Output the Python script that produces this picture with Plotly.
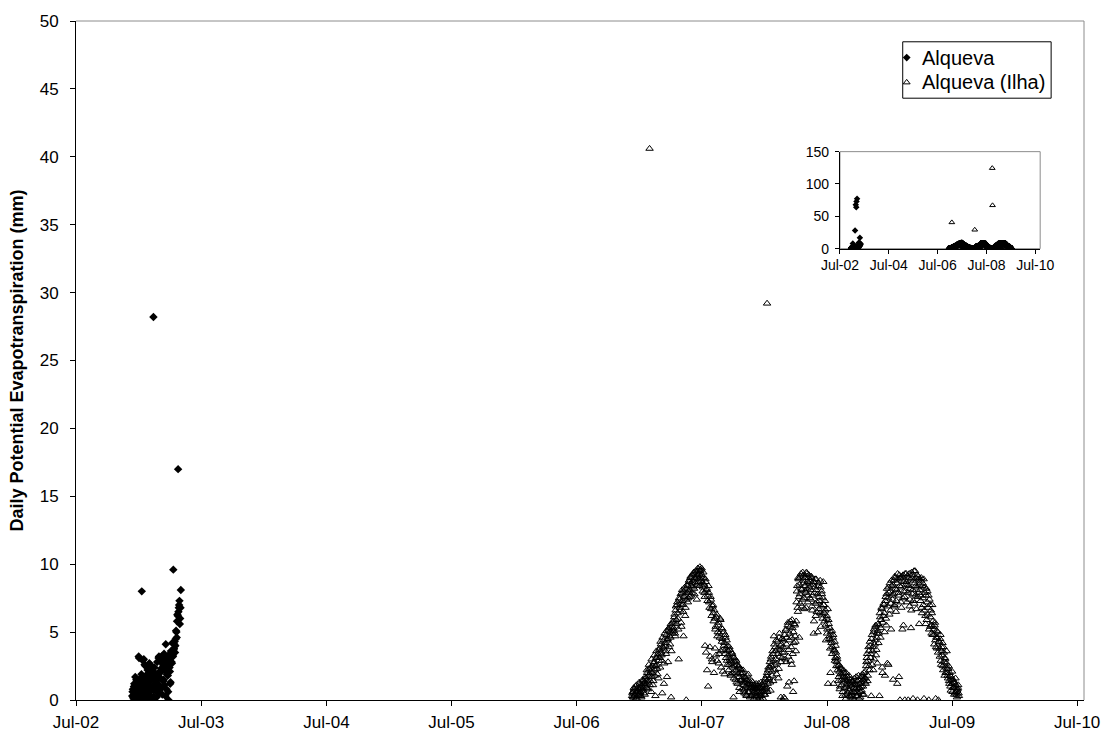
import pandas as pd
import plotly.graph_objects as go

# ---------------- data ----------------
# Alqueva: daily values, read as two interleaved runs (even / odd days)
alq_start_a = "2002-12-12"
alq_values_a = [
    0.3, 0.8, 0.1, 1.2, 0.5, 0.0, 1.5, 0.7, 0.2, 1.0,
    3.1, 0.4, 1.6, 0.9, 8.0, 0.2, 1.3, 3.0, 2.6, 0.6,
    1.8, 0.1, 2.4, 1.1, 0.5, 2.7, 1.4, 0.3, 2.2, 0.9,
    1.7, 28.2, 0.2, 2.0, 1.2, 1.4, 0.6, 1.9, 0.7, 3.2,
    1.0, 2.0, 2.3, 3.2, 0.4, 2.6, 1.5, 1.1, 3.0, 4.1,
    0.8, 2.5, 1.8, 0.0, 2.9, 2.1, 1.3, 3.5, 2.7, 3.3,
    9.6, 3.8, 4.3, 4.0, 5.1, 4.6, 6.3, 17.0, 6.8, 7.3,
    6.0, 8.1,
]
alq_start_b = "2002-12-13"
alq_values_b = [
    0.6, 0.2, 1.0, 0.4, 1.7, 0.1, 0.9, 1.4, 0.3, 3.2, 0.7, 1.2, 0.0, 1.9, 0.5, 2.9, 1.1, 0.3, 1.6, 2.5,
    0.8, 1.3, 2.2, 0.4, 1.8, 0.6, 2.6, 1.0, 0.1, 2.0, 1.5, 0.7, 2.4, 0.9, 1.7, 0.2, 2.8, 1.2, 3.1, 0.5,
    2.1, 1.6, 3.0, 0.9, 2.7, 1.4, 3.4, 2.2, 0.3, 3.1, 1.9, 2.6, 0.6, 3.3, 2.4, 1.2, 3.6, 2.8, 4.2, 3.2,
    3.7, 4.1, 3.5, 4.5, 5.0, 5.8, 6.2, 6.5, 7.0, 5.6, 6.8,
]
alq_step_days = 2
alq_extra_dates = ["2003-02-22", "2003-03-02", "2003-03-05", "2003-03-14"]
alq_extra_values = [68.0, 64.0, 73.0, 77.0]

# Alqueva (Ilha): daily values, two interleaved runs (even / odd days)
ilha_start_a = "2006-12-10"
ilha_values_a = [
    0.3, 0.6, 0.2, 0.8, 0.4, 1.0, 0.5, 0.1, 0.7, 0.9, 0.4, 1.2, 0.6, 0.3, 1.1, 0.8, 1.4, 0.5, 1.3, 1.0,
    1.6, 0.9, 2.0, 1.3, 1.8, 2.3, 1.1, 2.1, 0.6, 1.7, 2.5, 1.4, 2.8, 2.2, 0.3, 3.1, 2.6, 1.9, 3.4, 2.9,
    3.8, 2.4, 4.1, 3.3, 0.5, 3.9, 4.4, 2.7, 4.2, 3.6, 4.8, 1.7, 4.5, 5.2, 3.9, 5.0, 4.6, 0.2, 5.4, 4.9,
    5.8, 5.1, 6.3, 4.7, 6.9, 5.6, 7.2, 6.0, 3.0, 7.4, 6.6, 7.8, 5.4, 8.1, 7.0, 4.7, 7.6, 8.3, 6.8, 0.0,
    7.9, 8.4, 7.5, 8.8, 8.1, 9.0, 7.7, 8.6, 9.2, 8.3, 9.4, 7.8, 8.9, 9.5, 8.5, 9.1, 9.7, 8.7, 9.3, 9.8,
    9.6, 8.8, 9.2, 8.0, 9.4, 8.5, 7.6, 8.9, 3.5, 8.2, 7.3, 1.0, 7.9, 6.8, 3.2, 7.4, 6.2, 2.8, 7.0, 5.8,
    6.6, 3.8, 5.4, 6.1, 2.9, 5.0, 5.7, 3.4, 4.6, 5.9, 2.4, 4.3, 5.2, 3.7, 4.0, 1.9, 4.8, 3.1, 4.4, 2.6,
    3.6, 2.2, 3.9, 3.0, 1.8, 2.7, 3.4, 2.0, 0.2, 3.1, 2.5, 1.5, 2.9, 2.1, 1.2, 2.4, 1.7, 0.6, 2.3, 1.4,
    1.9, 0.8, 2.2, 1.3, 0.5, 1.6, 1.0, 0.3, 1.8, 1.2, 0.6, 1.4, 0.2, 0.9, 1.1, 0.4, 1.3, 0.7, 0.1, 1.0,
    0.5, 1.2, 0.2, 0.8, 0.0, 1.0, 0.4, 0.7, 1.3, 0.3, 0.9, 0.1, 0.6, 1.1, 0.4, 1.5, 0.8, 2.0, 1.2, 2.4,
    1.6, 2.8, 0.7, 3.2, 2.1, 3.6, 1.4, 4.7, 2.6, 3.9, 3.0, 1.9, 4.3, 3.4, 2.3, 4.9, 3.7, 0.2, 4.1, 3.1,
    0.0, 4.4, 3.5, 0.1, 5.1, 2.8, 4.6, 5.5, 3.2, 1.3, 4.9, 5.8, 3.9, 2.6, 5.3, 0.6, 4.2, 5.6, 4.7, 3.6,
    7.2, 8.4, 6.5, 8.9, 4.6, 7.8, 9.1, 8.2, 6.9, 9.4, 8.6, 7.5, 9.0, 8.0, 6.8, 9.3, 8.7, 7.7, 9.2, 8.3,
    8.8, 7.4, 9.0, 6.6, 8.5, 4.9, 7.9, 8.9, 6.2, 8.1, 7.2, 5.0, 8.6, 7.6, 6.4, 8.3, 6.9, 7.8, 6.0, 8.7,
    7.0, 5.8, 6.6, 4.4, 6.2, 5.2, 1.2, 5.6, 4.7, 3.8, 5.0, 4.2, 3.4, 4.6, 1.2, 3.7, 2.9, 4.0, 2.5, 3.2,
    2.2, 1.4, 2.6, 0.8, 1.9, 2.3, 1.1, 0.3, 1.7, 2.0, 0.9, 1.5, 0.1, 1.8, 1.2, 0.5, 1.6, 0.7, 1.3, 0.2,
    1.0, 0.4, 1.4, 0.6, 0.0, 1.2, 0.8, 1.7, 0.3, 1.1, 0.5, 1.5, 0.9, 0.2, 1.3, 0.7, 1.9, 1.0, 0.4, 1.6,
    2.1, 1.2, 2.8, 3.4, 1.8, 3.9, 2.5, 4.3, 3.1, 0.3, 4.8, 3.6, 2.2, 5.2, 4.1, 5.4, 3.3, 4.6, 2.7, 5.6,
    4.9, 0.3, 6.1, 5.3, 6.8, 2.4, 5.7, 7.1, 6.4, 1.8, 7.6, 5.5, 8.2, 6.9, 2.6, 7.9, 8.6, 6.6, 5.2, 8.4,
    7.4, 1.5, 8.8, 7.0, 9.0, 6.5, 8.1, 1.2, 8.9, 7.7, 9.2, 0.0, 8.3, 6.8, 9.1, 7.5, 5.5, 8.7, 0.0, 8.0,
    9.3, 7.2, 8.5, 0.0, 9.0, 6.9, 8.2, 5.3, 9.4, 7.8, 0.1, 8.8, 7.1, 9.5, 8.4, 6.7, 9.2, 7.6, 8.9, 5.6,
    8.1, 7.3, 9.0, 6.4, 8.6, 7.0, 0.1, 8.3, 6.2, 7.7, 5.9, 8.0, 6.8, 0.0, 7.4, 5.4, 6.6, 4.9, 7.0, 5.8,
    5.2, 4.1, 5.7, 0.1, 4.6, 3.8, 5.0, 0.0, 4.3, 3.2, 4.8, 2.6, 3.9, 4.2, 2.2, 3.5, 1.8, 3.0, 2.4, 3.6,
    2.0, 1.6, 2.5, 1.2, 1.8, 0.7, 1.5, 2.1, 0.9, 1.3, 0.4, 1.0, 1.6, 0.6, 0.2, 0.8, 1.1, 0.3,
]
ilha_start_b = "2006-12-11"
ilha_values_b = [
    0.5, 0.2, 0.9, 0.4, 0.7, 0.1, 1.1, 0.6, 0.3, 0.8, 1.3, 0.5, 0.9, 0.2, 1.0, 1.5, 0.7, 1.2, 0.4, 1.7,
    1.2, 2.2, 1.5, 0.8, 2.6, 1.9, 1.4, 2.4, 3.0, 2.0, 1.1, 2.7, 3.3, 1.8, 2.5, 3.6, 2.3, 3.2, 1.6, 3.7,
    3.1, 4.3, 3.5, 2.9, 4.6, 3.8, 1.2, 4.9, 4.0, 3.4, 5.1, 4.4, 2.8, 5.3, 4.7, 4.1, 5.6, 3.6, 5.2, 5.7,
    5.3, 6.1, 4.9, 6.6, 5.9, 7.0, 6.4, 5.2, 7.5, 6.8, 7.1, 5.7, 7.9, 7.3, 6.5, 8.0, 7.7, 6.2, 8.2, 7.4,
    8.5, 7.2, 8.0, 8.7, 7.6, 9.1, 8.4, 7.9, 8.8, 9.3, 8.2, 9.0, 8.6, 9.4, 7.4, 9.2, 8.9, 9.6, 8.4, 9.5,
    9.1, 9.7, 8.6, 8.3, 9.0, 7.9, 4.0, 8.7, 8.1, 2.2, 7.7, 8.4, 7.2, 3.9, 7.6, 6.7, 3.0, 6.9, 6.4, 2.0,
    6.0, 5.2, 3.3, 6.3, 4.7, 5.5, 2.7, 4.9, 6.0, 3.6, 5.3, 4.5, 2.1, 5.0, 4.2, 3.4, 4.6, 3.8, 2.9, 4.0,
    3.3, 2.6, 3.7, 1.9, 2.9, 3.5, 2.4, 3.2, 1.6, 2.8, 3.0, 2.2, 1.3, 2.6, 1.9, 2.5, 0.9, 2.0, 1.5, 2.2,
    1.5, 2.0, 1.1, 0.7, 1.7, 1.3, 0.4, 1.5, 0.9, 1.9, 0.6, 1.2, 1.0, 0.3, 1.4, 0.8, 0.5, 1.1, 0.9, 0.3,
    0.8, 0.3, 1.0, 0.6, 1.2, 0.2, 0.9, 0.5, 0.0, 1.1, 0.7, 1.3, 0.4, 0.8, 1.6, 1.0, 1.8, 0.6, 2.2, 1.5,
    2.4, 1.3, 3.0, 2.5, 1.8, 3.4, 2.9, 4.1, 2.2, 3.6, 4.4, 2.7, 3.8, 1.6, 4.6, 3.2, 4.0, 2.8, 4.5, 3.5,
    3.9, 0.2, 4.8, 3.0, 5.2, 4.1, 1.0, 5.7, 3.7, 4.4, 5.4, 2.9, 4.6, 5.9, 3.4, 5.0, 1.4, 5.5, 4.3, 5.8,
    8.0, 6.8, 9.0, 7.6, 8.5, 7.1, 9.3, 8.1, 7.4, 8.8, 9.2, 6.7, 8.4, 7.9, 9.4, 8.2, 7.2, 9.0, 8.6, 7.5,
    8.1, 9.1, 6.9, 7.7, 8.7, 5.8, 8.3, 7.1, 8.9, 6.5, 7.8, 8.4, 6.7, 7.3, 8.8, 5.4, 8.0, 6.3, 7.5, 7.0,
    6.4, 7.3, 5.5, 6.0, 4.9, 6.7, 5.9, 4.5, 5.3, 2.0, 4.4, 5.1, 3.9, 4.8, 3.6, 4.3, 3.1, 3.5, 2.8, 3.0,
    2.5, 1.7, 2.1, 1.0, 2.4, 1.5, 1.9, 0.6, 2.2, 1.3, 1.6, 0.4, 2.0, 1.0, 1.4, 0.8, 1.8, 0.3, 1.1, 1.5,
    0.6, 1.3, 0.2, 0.9, 1.6, 0.5, 1.1, 0.3, 1.4, 0.8, 1.8, 0.1, 1.2, 0.6, 1.0, 1.7, 0.4, 1.5, 2.0, 1.3,
    1.6, 2.5, 3.1, 1.4, 2.9, 3.6, 2.2, 4.0, 3.4, 4.5, 2.6, 3.9, 5.0, 3.0, 4.4, 5.5, 3.7, 4.9, 5.1, 4.2,
    5.5, 6.4, 4.6, 5.9, 6.7, 2.0, 6.2, 7.0, 5.0, 7.3, 6.0, 7.8, 2.7, 7.5, 8.3, 6.3, 8.0, 7.1, 8.8, 7.7,
    8.5, 7.8, 6.9, 9.1, 8.2, 7.3, 8.6, 9.3, 7.9, 1.7, 8.4, 9.0, 7.2, 8.8, 5.2, 9.2, 8.0, 7.6, 9.3, 8.5,
    8.7, 9.1, 7.9, 8.4, 9.3, 7.4, 8.9, 6.6, 9.2, 8.1, 7.3, 9.5, 8.6, 7.7, 9.0, 8.3, 0.0, 9.1, 7.9, 8.5,
    7.7, 8.8, 6.8, 8.4, 7.5, 8.9, 6.6, 7.9, 5.6, 8.2, 7.2, 6.3, 7.7, 5.2, 7.0, 6.1, 5.5, 6.4, 4.8, 5.4,
    4.8, 5.5, 4.4, 3.9, 5.1, 4.6, 3.5, 4.3, 3.8, 4.5, 2.9, 3.6, 3.3, 2.5, 3.9, 2.8, 3.1, 2.0, 2.7, 2.3,
    1.8, 2.3, 1.4, 2.0, 1.0, 1.7, 1.2, 0.6, 1.5, 0.9, 1.3, 0.5, 1.1, 0.4, 0.7, 0.9, 0.5,
]
ilha_step_days = 2
ilha_extra_dates = ["2007-01-30", "2008-01-08", "2008-09-26", "2008-09-30"]
ilha_extra_values = [40.6, 29.2, 124.5, 67.0]

series_names = ["Alqueva", "Alqueva (Ilha)"]
y_title = "Daily Potential Evapotranspiration (mm)"


# ---------------- build ----------------
def run_dates(start, values, step):
    return list(pd.date_range(start, periods=len(values), freq=f"{step}D"))


alq_x = (run_dates(alq_start_a, alq_values_a, alq_step_days)
         + run_dates(alq_start_b, alq_values_b, alq_step_days)
         + list(pd.to_datetime(alq_extra_dates)))
alq_y = alq_values_a + alq_values_b + alq_extra_values
ilha_x = (run_dates(ilha_start_a, ilha_values_a, ilha_step_days)
          + run_dates(ilha_start_b, ilha_values_b, ilha_step_days)
          + list(pd.to_datetime(ilha_extra_dates)))
ilha_y = ilha_values_a + ilha_values_b + ilha_extra_values

FONT = "Liberation Sans, Arial, sans-serif"
DIAMOND = dict(symbol="diamond", size=6.5, color="black", line=dict(width=0))
TRIANGLE = dict(symbol="triangle-up-open", size=6.5, color="black", line=dict(width=1, color="black"))

W, H = 1112, 744
L, R, T, B = 76, 24, 18, 40
pw, ph = W - L - R, H - T - B

fig = go.Figure()
# main
fig.add_trace(go.Scatter(x=alq_x, y=alq_y, mode="markers", name=series_names[0],
                         showlegend=False, marker=DIAMOND))
fig.add_trace(go.Scatter(x=ilha_x, y=ilha_y, mode="markers", name=series_names[1],
                         showlegend=False, marker=TRIANGLE))
# inset
fig.add_trace(go.Scatter(x=alq_x, y=alq_y, mode="markers", showlegend=False,
                         xaxis="x2", yaxis="y2", name=series_names[0],
                         marker=dict(DIAMOND, size=5)))
fig.add_trace(go.Scatter(x=ilha_x, y=ilha_y, mode="markers", showlegend=False,
                         xaxis="x2", yaxis="y2", name=series_names[1],
                         marker=dict(TRIANGLE, size=5)))

# legend (drawn on a pixel-unit overlay axis)
leg_box = (906, 1055, 39, 96)     # left, right, top, bottom in px
leg_rows = [55, 80]
leg_marker_x, leg_text_x = 910, 923
fig.add_trace(go.Scatter(x=[leg_marker_x], y=[leg_rows[0]], mode="markers", xaxis="x3", yaxis="y3",
                         showlegend=False, hoverinfo="skip", marker=dict(DIAMOND, size=6),
                         cliponaxis=False))
fig.add_trace(go.Scatter(x=[leg_marker_x], y=[leg_rows[1]], mode="markers", xaxis="x3", yaxis="y3",
                         showlegend=False, hoverinfo="skip", marker=dict(TRIANGLE, size=6),
                         cliponaxis=False))

ix0, ix1, iy0, iy1 = 843, 1044, 150, 248  # inset pixel box
inset_xd = [(ix0 - L) / pw, (ix1 - L) / pw]
inset_yd = [(H - B - iy1) / ph, (H - B - iy0) / ph]

annotations = [
    dict(x=leg_text_x, y=leg_rows[i], xref="x3", yref="y3", text=series_names[i], showarrow=False,
         xanchor="left", yanchor="middle", font=dict(family=FONT, size=20, color="black"))
    for i in range(2)
]

fig.update_layout(
    width=W, height=H,
    margin=dict(l=L, r=R, t=T, b=B),
    paper_bgcolor="white", plot_bgcolor="rgba(0,0,0,0)",
    font=dict(family=FONT, size=17, color="black"),
    showlegend=False,
    xaxis=dict(type="date", range=["2002-07-01", "2010-07-21"],
               tick0="2002-07-01", dtick="M12", tickformat="%b-%y",
               ticks="outside", ticklen=5, tickcolor="black", showline=True,
               linecolor="black", linewidth=1, showgrid=False, zeroline=False,
               tickfont=dict(size=17), ticklabelstandoff=2),
    yaxis=dict(range=[0, 50], dtick=5, ticks="outside", ticklen=5, tickcolor="black",
               showline=True, linecolor="black", linewidth=1, showgrid=False, zeroline=False,
               tickfont=dict(size=17), ticklabelstandoff=8,
               title=dict(text="<b>" + y_title + "</b>", font=dict(size=18), standoff=11)),
    xaxis2=dict(type="date", domain=inset_xd, anchor="y2",
                range=["2002-07-01", "2010-09-13"],
                tick0="2002-07-01", dtick="M24", tickformat="%b-%y",
                ticks="outside", ticklen=4, tickcolor="black", showline=True,
                linecolor="black", linewidth=1, showgrid=False, zeroline=False,
                tickfont=dict(size=14)),
    yaxis2=dict(domain=inset_yd, anchor="x2", range=[0, 150], dtick=50,
                ticks="outside", ticklen=4, tickcolor="black", showline=True,
                linecolor="black", linewidth=1, showgrid=False, zeroline=False,
                tickfont=dict(size=14), ticklabelstandoff=3),
    xaxis3=dict(overlaying="x", range=[L, W - R], anchor="y3", visible=False, fixedrange=True),
    yaxis3=dict(overlaying="y", range=[H - B, T], anchor="x3", visible=False, fixedrange=True),
    annotations=annotations,
    shapes=[
        # main plot frame (top & right, grey)
        dict(type="line", xref="paper", yref="paper", x0=0, x1=1, y0=1, y1=1,
             line=dict(color="#8c8c8c", width=1)),
        dict(type="line", xref="paper", yref="paper", x0=1, x1=1, y0=0, y1=1,
             line=dict(color="#8c8c8c", width=1)),
        # inset frame
        dict(type="rect", xref="paper", yref="paper", x0=inset_xd[0], x1=inset_xd[1],
             y0=inset_yd[0], y1=inset_yd[1], fillcolor="white",
             line=dict(color="#8c8c8c", width=1), layer="below"),
        # legend box
        dict(type="rect", xref="x3", yref="y3", x0=leg_box[0], x1=leg_box[1],
             y0=leg_box[2], y1=leg_box[3], fillcolor="rgba(0,0,0,0)",
             line=dict(color="black", width=1)),
    ],
)

fig.write_html("out.html", config={"displayModeBar": False},
               post_script="document.body.style.margin='0px';"
                           "document.body.style.overflow='hidden';")
